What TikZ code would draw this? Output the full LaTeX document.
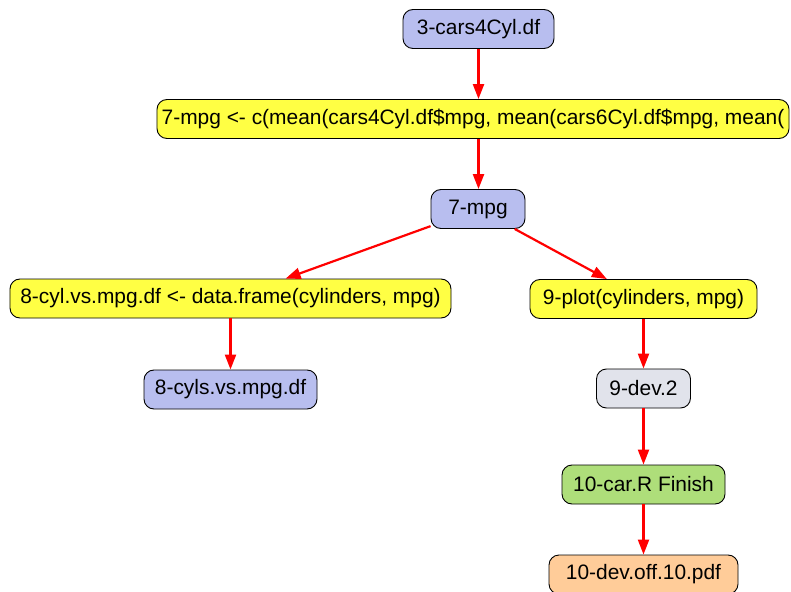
\documentclass[tikz,border=0pt]{standalone}
\usepackage{fontspec}
\setmainfont{Liberation Sans}
\usetikzlibrary{arrows.meta}
\definecolor{cblue}{HTML}{B8BEEF}
\definecolor{cyellow}{HTML}{FFFF44}
\definecolor{cgray}{HTML}{E1E3EB}
\definecolor{cgreen}{HTML}{AEDE7A}
\definecolor{corange}{HTML}{FFCC99}
\begin{document}
\begin{tikzpicture}[x=1bp,y=-1bp,
  box/.style={draw=black,line width=0.9bp,rounded corners=10bp,minimum height=39bp,inner sep=0pt,font=\fontsize{21}{24}\selectfont},
  arr/.style={draw=red,line width=2.2bp,-{Triangle[length=15bp,width=11bp]}}]
\useasboundingbox (0,0) rectangle (791,592);
\node[box,fill=cblue,minimum width=151bp] (n3) at (478.5,29) {3-cars4Cyl.df};
\node[box,fill=cyellow,minimum width=632bp] (n7a) at (473,119) {7-mpg <- c(mean(cars4Cyl.df\$mpg, mean(cars6Cyl.df\$mpg, mean(};
\node[box,fill=cblue,minimum width=94bp] (n7) at (478,209) {7-mpg};
\node[box,fill=cyellow,minimum width=441bp] (n8a) at (230.5,298.5) {8-cyl.vs.mpg.df <- data.frame(cylinders, mpg)};
\node[box,fill=cyellow,minimum width=227bp] (n9a) at (643.5,299) {9-plot(cylinders, mpg)};
\node[box,fill=cblue,minimum width=173bp] (n8b) at (230.5,389.5) {8-cyls.vs.mpg.df};
\node[box,fill=cgray,minimum width=94bp] (n9b) at (643.5,388.5) {9-dev.2};
\node[box,fill=cgreen,minimum width=163bp] (n10a) at (643.5,484.5) {10-car.R Finish};
\node[box,fill=corange,minimum width=189bp] (n10b) at (643.5,574.5) {10-dev.off.10.pdf};
\draw[arr] (n3.south) -- (n3.south |- n7a.north);
\draw[arr] (n3.south |- n7a.south) -- (n3.south |- n7.north);
\draw[arr] (n7) -- (n8a);
\draw[arr] (n7) -- (n9a);
\draw[arr] (n8a.south) -- (n8b.north);
\draw[arr] (n9a.south) -- (n9b.north);
\draw[arr] (n9b.south) -- (n10a.north);
\draw[arr] (n10a.south) -- (n10b.north);
\end{tikzpicture}
\end{document}
